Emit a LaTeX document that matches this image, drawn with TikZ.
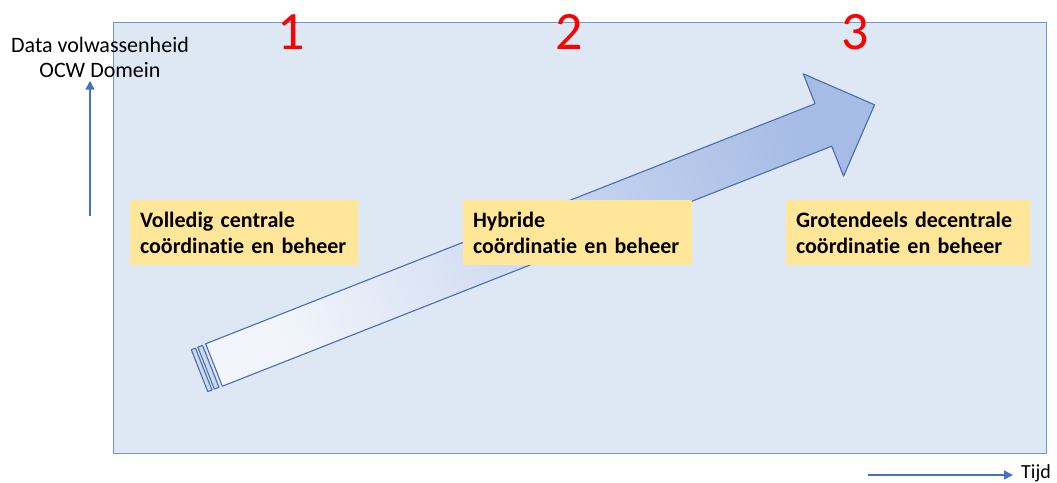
\documentclass[tikz,border=0pt]{standalone}
\usepackage{fontspec}
\setmainfont{Carlito}[Ligatures=NoCommon]
\usepackage{xcolor}
\usetikzlibrary{calc}
\usetikzlibrary{arrows.meta}
\usetikzlibrary{positioning}

\definecolor{panelfill}{HTML}{DEE8F5}
\definecolor{panelline}{HTML}{7396D0}
\definecolor{labelfill}{HTML}{FFE699}
\definecolor{axisblue}{HTML}{4472C4}
\definecolor{arrowline}{HTML}{4A6DAE}
\definecolor{arrowlight}{HTML}{F2F5FB}
\definecolor{arrowdark}{HTML}{A6BBE5}

\begin{document}
\begin{tikzpicture}[x=1pt,y=-1pt]
			\tikzset{stage/.style={shape=rectangle, fill=labelfill, align=left, inner xsep=10pt, minimum height=65pt, font=\bfseries\fontsize{22}{26}\selectfont}}
			\tikzset{phase/.style={text=red, font=\fontsize{54}{54}\selectfont}}
			\tikzset{axis/.style={axisblue, line width=1.6pt, -{Triangle[length=9pt,width=9pt]}}}
			\tikzset{trend/.style={draw=arrowline, line width=1.1pt, line join=round, shading=axis, left color=arrowlight, right color=arrowdark, shading angle=111.5}}
			\useasboundingbox (0,0) rectangle (1057,482);
			% panel
			\draw[panelline, fill=panelfill, line width=0.8pt] (113,22) rectangle (1046,453);
			% growth arrow
			\begin{scope}[shift={(214,365)}, rotate=21.5]
				\draw[trend] (-15.5,-22.5) rectangle (-11,22.5);
				\draw[trend] (-8.5,-22.5) rectangle (-3.5,22.5);
				\draw[trend] (0,-22.8) -- (655,-22.8) -- (655,-55) -- (710,0) -- (655,55) -- (655,22.8) -- (0,22.8) -- cycle;
			\end{scope}
			% stages
			\node[stage, text width=208pt] (central) at (244,232.5) {Volledig centrale\\co\"ordinatie en beheer};
			\node[stage, text width=209pt] (hybrid) at (577.5,232.5) {Hybride\\co\"ordinatie en beheer};
			\node[stage, text width=224pt] (decentral) at (908,232.5) {Grotendeels decentrale\\co\"ordinatie en beheer};
			\node[phase] (one) at (291,32) {1};
			\node[phase] (two) at (569,32) {2};
			\node[phase] (three) at (855,32) {3};
			% axes
			\node[align=center, font=\fontsize{22}{25}\selectfont] (maturity) at (100,57) {Data volwassenheid\\OCW Domein};
			\coordinate (ybase) at (90,216);
			\draw[axis] (ybase) -- (ybase |- maturity.south);
			\node[anchor=west, inner sep=0pt, font=\fontsize{20}{24}\selectfont] (time) at (1021,473) {Tijd};
			\coordinate (xbase) at (868,475);
			\draw[axis] (xbase) -- ([xshift=-8pt]time.west |- xbase);
		\end{tikzpicture}
\end{document}
